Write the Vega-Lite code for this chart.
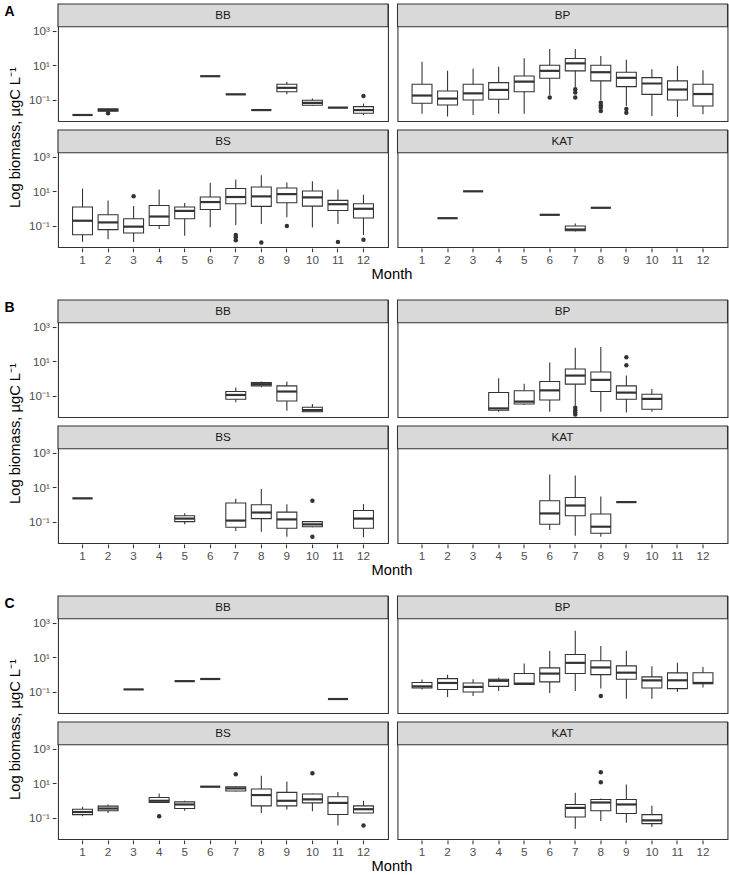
{
  "$schema": "https://vega.github.io/schema/vega-lite/v6.json",
  "padding": {"left": 4, "top": 1, "right": 0, "bottom": 0},
  "datasets": {
    "rows": [
      {"p":"A","s":"BB","m":1,"lo":0.0135,"q1":0.0135,"md":0.0135,"q3":0.0135,"hi":0.0135},
      {"p":"A","s":"BB","m":2,"lo":0.022,"q1":0.022,"md":0.026,"q3":0.031,"hi":0.031},
      {"p":"A","s":"BB","m":6,"lo":2.35,"q1":2.35,"md":2.35,"q3":2.35,"hi":2.35},
      {"p":"A","s":"BB","m":7,"lo":0.21,"q1":0.21,"md":0.21,"q3":0.21,"hi":0.21},
      {"p":"A","s":"BB","m":8,"lo":0.026,"q1":0.026,"md":0.026,"q3":0.026,"hi":0.026},
      {"p":"A","s":"BB","m":9,"lo":0.21,"q1":0.30,"md":0.50,"q3":0.81,"hi":1.1},
      {"p":"A","s":"BB","m":10,"lo":0.045,"q1":0.049,"md":0.067,"q3":0.095,"hi":0.12},
      {"p":"A","s":"BB","m":11,"lo":0.036,"q1":0.036,"md":0.036,"q3":0.036,"hi":0.036},
      {"p":"A","s":"BB","m":12,"lo":0.0135,"q1":0.017,"md":0.026,"q3":0.041,"hi":0.061},
      {"p":"A","s":"BB","m":2,"o":0.017},
      {"p":"A","s":"BB","m":12,"o":0.17},
      {"p":"A","s":"BP","m":1,"lo":0.016,"q1":0.064,"md":0.18,"q3":0.81,"hi":15.9},
      {"p":"A","s":"BP","m":2,"lo":0.011,"q1":0.051,"md":0.12,"q3":0.33,"hi":4.8},
      {"p":"A","s":"BP","m":3,"lo":0.0135,"q1":0.1,"md":0.24,"q3":0.81,"hi":6.6},
      {"p":"A","s":"BP","m":4,"lo":0.016,"q1":0.11,"md":0.38,"q3":1.0,"hi":8.2},
      {"p":"A","s":"BP","m":5,"lo":0.016,"q1":0.30,"md":1.15,"q3":2.4,"hi":26},
      {"p":"A","s":"BP","m":6,"lo":0.19,"q1":1.8,"md":4.8,"q3":10.2,"hi":87},
      {"p":"A","s":"BP","m":7,"lo":0.56,"q1":4.8,"md":13,"q3":25,"hi":87},
      {"p":"A","s":"BP","m":8,"lo":0.095,"q1":1.26,"md":4.0,"q3":10.2,"hi":35},
      {"p":"A","s":"BP","m":9,"lo":0.045,"q1":0.59,"md":1.9,"q3":4.0,"hi":21},
      {"p":"A","s":"BP","m":10,"lo":0.012,"q1":0.21,"md":0.89,"q3":1.95,"hi":6.0},
      {"p":"A","s":"BP","m":11,"lo":0.0103,"q1":0.1,"md":0.40,"q3":1.26,"hi":9.3},
      {"p":"A","s":"BP","m":12,"lo":0.0148,"q1":0.045,"md":0.22,"q3":0.81,"hi":5.2},
      {"p":"A","s":"BP","m":6,"o":0.14},
      {"p":"A","s":"BP","m":7,"o":0.42},
      {"p":"A","s":"BP","m":7,"o":0.27},
      {"p":"A","s":"BP","m":7,"o":0.14},
      {"p":"A","s":"BP","m":8,"o":0.07},
      {"p":"A","s":"BP","m":8,"o":0.049},
      {"p":"A","s":"BP","m":8,"o":0.036},
      {"p":"A","s":"BP","m":8,"o":0.023},
      {"p":"A","s":"BP","m":9,"o":0.03},
      {"p":"A","s":"BP","m":9,"o":0.018},
      {"p":"A","s":"BS","m":1,"lo":0.012,"q1":0.031,"md":0.20,"q3":1.23,"hi":14.5},
      {"p":"A","s":"BS","m":2,"lo":0.017,"q1":0.061,"md":0.16,"q3":0.44,"hi":3.0},
      {"p":"A","s":"BS","m":3,"lo":0.012,"q1":0.039,"md":0.091,"q3":0.26,"hi":1.4},
      {"p":"A","s":"BS","m":4,"lo":0.067,"q1":0.105,"md":0.35,"q3":1.5,"hi":12.6},
      {"p":"A","s":"BS","m":5,"lo":0.027,"q1":0.26,"md":0.74,"q3":1.23,"hi":2.1},
      {"p":"A","s":"BS","m":6,"lo":0.084,"q1":0.89,"md":2.4,"q3":4.7,"hi":31},
      {"p":"A","s":"BS","m":7,"lo":0.114,"q1":1.9,"md":4.7,"q3":14.5,"hi":48},
      {"p":"A","s":"BS","m":8,"lo":0.13,"q1":1.35,"md":5.1,"q3":18,"hi":85},
      {"p":"A","s":"BS","m":9,"lo":0.32,"q1":2.2,"md":6.9,"q3":15.6,"hi":32},
      {"p":"A","s":"BS","m":10,"lo":0.08,"q1":1.4,"md":4.5,"q3":10.5,"hi":38},
      {"p":"A","s":"BS","m":11,"lo":0.13,"q1":0.78,"md":1.8,"q3":3.0,"hi":12.6},
      {"p":"A","s":"BS","m":12,"lo":0.030,"q1":0.29,"md":0.98,"q3":1.9,"hi":6.4},
      {"p":"A","s":"BS","m":3,"o":5.2},
      {"p":"A","s":"BS","m":7,"o":0.030},
      {"p":"A","s":"BS","m":7,"o":0.022},
      {"p":"A","s":"BS","m":7,"o":0.015},
      {"p":"A","s":"BS","m":8,"o":0.0112},
      {"p":"A","s":"BS","m":9,"o":0.10},
      {"p":"A","s":"BS","m":11,"o":0.012},
      {"p":"A","s":"BS","m":12,"o":0.016},
      {"p":"A","s":"KAT","m":2,"lo":0.28,"q1":0.28,"md":0.28,"q3":0.28,"hi":0.28},
      {"p":"A","s":"KAT","m":3,"lo":10,"q1":10,"md":10,"q3":10,"hi":10},
      {"p":"A","s":"KAT","m":6,"lo":0.44,"q1":0.44,"md":0.44,"q3":0.44,"hi":0.44},
      {"p":"A","s":"KAT","m":7,"lo":0.047,"q1":0.053,"md":0.062,"q3":0.1,"hi":0.137},
      {"p":"A","s":"KAT","m":8,"lo":1.12,"q1":1.12,"md":1.12,"q3":1.12,"hi":1.12},

      {"p":"B","s":"BB","m":7,"lo":0.043,"q1":0.064,"md":0.114,"q3":0.18,"hi":0.31},
      {"p":"B","s":"BB","m":8,"lo":0.32,"q1":0.38,"md":0.48,"q3":0.60,"hi":0.68},
      {"p":"B","s":"BB","m":9,"lo":0.014,"q1":0.051,"md":0.18,"q3":0.38,"hi":0.68},
      {"p":"B","s":"BB","m":10,"lo":0.0123,"q1":0.0123,"md":0.015,"q3":0.022,"hi":0.034},
      {"p":"B","s":"BP","m":4,"lo":0.0123,"q1":0.015,"md":0.019,"q3":0.16,"hi":1.07},
      {"p":"B","s":"BP","m":5,"lo":0.030,"q1":0.034,"md":0.047,"q3":0.20,"hi":0.50},
      {"p":"B","s":"BP","m":6,"lo":0.0123,"q1":0.058,"md":0.21,"q3":0.68,"hi":8.7},
      {"p":"B","s":"BP","m":7,"lo":0.027,"q1":0.48,"md":1.5,"q3":3.6,"hi":60},
      {"p":"B","s":"BP","m":8,"lo":0.0123,"q1":0.18,"md":0.85,"q3":2.4,"hi":68},
      {"p":"B","s":"BP","m":9,"lo":0.011,"q1":0.064,"md":0.156,"q3":0.38,"hi":1.5},
      {"p":"B","s":"BP","m":10,"lo":0.0123,"q1":0.017,"md":0.067,"q3":0.125,"hi":0.25},
      {"p":"B","s":"BP","m":7,"o":0.021},
      {"p":"B","s":"BP","m":7,"o":0.015},
      {"p":"B","s":"BP","m":7,"o":0.011},
      {"p":"B","s":"BP","m":7,"o":0.0085},
      {"p":"B","s":"BP","m":9,"o":17},
      {"p":"B","s":"BP","m":9,"o":5.9},
      {"p":"B","s":"BS","m":1,"lo":2.3,"q1":2.3,"md":2.3,"q3":2.3,"hi":2.3},
      {"p":"B","s":"BS","m":5,"lo":0.073,"q1":0.104,"md":0.156,"q3":0.23,"hi":0.32},
      {"p":"B","s":"BS","m":7,"lo":0.030,"q1":0.049,"md":0.12,"q3":1.23,"hi":2.2},
      {"p":"B","s":"BS","m":8,"lo":0.027,"q1":0.156,"md":0.35,"q3":0.98,"hi":8.0},
      {"p":"B","s":"BS","m":9,"lo":0.014,"q1":0.043,"md":0.14,"q3":0.37,"hi":1.07},
      {"p":"B","s":"BS","m":10,"lo":0.049,"q1":0.053,"md":0.073,"q3":0.104,"hi":0.114},
      {"p":"B","s":"BS","m":12,"lo":0.013,"q1":0.043,"md":0.156,"q3":0.46,"hi":1.07},
      {"p":"B","s":"BS","m":10,"o":1.66},
      {"p":"B","s":"BS","m":10,"o":0.014},
      {"p":"B","s":"KAT","m":6,"lo":0.034,"q1":0.073,"md":0.31,"q3":1.66,"hi":55},
      {"p":"B","s":"KAT","m":7,"lo":0.016,"q1":0.23,"md":0.89,"q3":2.6,"hi":48},
      {"p":"B","s":"KAT","m":8,"lo":0.014,"q1":0.022,"md":0.053,"q3":0.29,"hi":3.0},
      {"p":"B","s":"KAT","m":9,"lo":1.4,"q1":1.4,"md":1.4,"q3":1.4,"hi":1.4},

      {"p":"C","s":"BB","m":3,"lo":0.14,"q1":0.14,"md":0.14,"q3":0.14,"hi":0.14},
      {"p":"C","s":"BB","m":5,"lo":0.42,"q1":0.42,"md":0.42,"q3":0.42,"hi":0.42},
      {"p":"C","s":"BB","m":6,"lo":0.56,"q1":0.56,"md":0.56,"q3":0.56,"hi":0.56},
      {"p":"C","s":"BB","m":11,"lo":0.039,"q1":0.039,"md":0.039,"q3":0.039,"hi":0.039},
      {"p":"C","s":"BP","m":1,"lo":0.14,"q1":0.17,"md":0.21,"q3":0.35,"hi":0.52},
      {"p":"C","s":"BP","m":2,"lo":0.051,"q1":0.14,"md":0.33,"q3":0.59,"hi":1.0},
      {"p":"C","s":"BP","m":3,"lo":0.059,"q1":0.1,"md":0.195,"q3":0.33,"hi":0.54},
      {"p":"C","s":"BP","m":4,"lo":0.114,"q1":0.21,"md":0.44,"q3":0.54,"hi":0.65},
      {"p":"C","s":"BP","m":5,"lo":0.27,"q1":0.27,"md":0.30,"q3":1.15,"hi":4.4},
      {"p":"C","s":"BP","m":6,"lo":0.088,"q1":0.38,"md":1.15,"q3":2.45,"hi":23},
      {"p":"C","s":"BP","m":7,"lo":0.114,"q1":1.15,"md":4.8,"q3":14.5,"hi":347},
      {"p":"C","s":"BP","m":8,"lo":0.156,"q1":1.0,"md":2.6,"q3":6.3,"hi":45},
      {"p":"C","s":"BP","m":9,"lo":0.041,"q1":0.54,"md":1.3,"q3":3.2,"hi":24},
      {"p":"C","s":"BP","m":10,"lo":0.041,"q1":0.17,"md":0.47,"q3":0.74,"hi":3.1},
      {"p":"C","s":"BP","m":11,"lo":0.1,"q1":0.156,"md":0.47,"q3":1.26,"hi":4.8},
      {"p":"C","s":"BP","m":12,"lo":0.18,"q1":0.30,"md":0.33,"q3":1.3,"hi":2.8},
      {"p":"C","s":"BP","m":8,"o":0.059},
      {"p":"C","s":"BS","m":1,"lo":0.125,"q1":0.156,"md":0.22,"q3":0.32,"hi":0.44},
      {"p":"C","s":"BS","m":2,"lo":0.195,"q1":0.26,"md":0.35,"q3":0.48,"hi":0.60},
      {"p":"C","s":"BS","m":4,"lo":0.78,"q1":0.78,"md":0.98,"q3":1.5,"hi":2.6},
      {"p":"C","s":"BS","m":5,"lo":0.26,"q1":0.35,"md":0.60,"q3":0.85,"hi":0.98},
      {"p":"C","s":"BS","m":6,"lo":6.4,"q1":6.4,"md":6.4,"q3":6.4,"hi":6.4},
      {"p":"C","s":"BS","m":7,"lo":3.4,"q1":3.6,"md":5.1,"q3":6.4,"hi":6.6},
      {"p":"C","s":"BS","m":8,"lo":0.195,"q1":0.50,"md":2.1,"q3":4.7,"hi":27},
      {"p":"C","s":"BS","m":9,"lo":0.31,"q1":0.50,"md":0.98,"q3":3.0,"hi":12.6},
      {"p":"C","s":"BS","m":10,"lo":0.24,"q1":0.74,"md":1.17,"q3":2.4,"hi":2.6},
      {"p":"C","s":"BS","m":11,"lo":0.037,"q1":0.16,"md":0.74,"q3":1.66,"hi":3.2},
      {"p":"C","s":"BS","m":12,"lo":0.195,"q1":0.195,"md":0.32,"q3":0.50,"hi":0.98},
      {"p":"C","s":"BS","m":4,"o":0.125},
      {"p":"C","s":"BS","m":7,"o":33},
      {"p":"C","s":"BS","m":10,"o":38},
      {"p":"C","s":"BS","m":12,"o":0.037},
      {"p":"C","s":"KAT","m":7,"lo":0.024,"q1":0.114,"md":0.38,"q3":0.60,"hi":2.9},
      {"p":"C","s":"KAT","m":8,"lo":0.067,"q1":0.26,"md":0.78,"q3":1.17,"hi":1.35},
      {"p":"C","s":"KAT","m":9,"lo":0.053,"q1":0.18,"md":0.60,"q3":1.17,"hi":8.7},
      {"p":"C","s":"KAT","m":10,"lo":0.030,"q1":0.047,"md":0.073,"q3":0.156,"hi":0.50},
      {"p":"C","s":"KAT","m":8,"o":44},
      {"p":"C","s":"KAT","m":8,"o":11.5}
    ]
  },
  "spacing": 14,
  "vconcat": [
    {
      "title": {"text": "A", "anchor": "start", "frame": "bounds", "fontSize": 14, "fontWeight": "bold", "color": "#000000", "offset": -17, "dx": -3},
      "spacing": 5,
      "hconcat": [
        {"width": 15, "height": 241, "view": {"stroke": null},
         "data": {"name": "rows"}, "transform": [{"aggregate": [{"op": "count", "as": "n"}]}],
         "mark": {"type": "text", "text": "Log biomass, µgC L⁻¹", "angle": 270, "fontSize": 14.7, "color": "#000000", "baseline": "middle", "dx": -13},
         "encoding": {}},
        {"spacing": 0, "vconcat": [
          {
            "data": {"name": "rows"},
            "transform": [{"filter": "datum.p == 'A'"}],
            "facet": {"field": "s", "type": "nominal", "header": {"title": null, "labelExpr": "''", "labelPadding": 0, "labelFontSize": 1}},
            "columns": 2,
            "spacing": {"row": 5, "column": 5.5},
            "spec": {
              "width": 330, "height": 117,
              "layer": [
                {"transform": [{"aggregate": [{"op": "count", "as": "n"}], "groupby": ["s"]}],
                 "mark": {"type": "rect", "fill": "#D9D9D9", "stroke": "#333333", "strokeWidth": 1.07},
                 "encoding": {"y": {"datum": 1700, "type": "quantitative", "title": null, "axis": {"values": [0.1, 10, 1000], "title": null}, "scale": {"type": "log", "domain": [0.00607, 35000], "nice": false}}, "y2": {"datum": 35000}}},
                {"transform": [{"aggregate": [{"op": "count", "as": "n"}], "groupby": ["s"]}],
                 "mark": {"type": "text", "fontSize": 11.7, "color": "#1A1A1A", "baseline": "middle"},
                 "encoding": {"y": {"datum": 7714, "type": "quantitative", "title": null, "axis": {"values": [0.1, 10, 1000], "title": null}}, "text": {"field": "s"}}},
                {"transform": [{"filter": {"field": "md", "valid": true}}],
                 "mark": {"type": "rule", "color": "#333333", "strokeWidth": 1.07},
                 "encoding": {"x": {"field": "m", "type": "ordinal", "title": null, "scale": {"domain": [1,2,3,4,5,6,7,8,9,10,11,12], "paddingInner": 0.22, "paddingOuter": 0.57}},
                              "y": {"field": "lo", "type": "quantitative", "title": null, "axis": {"values": [0.1, 10, 1000], "title": null}}, "y2": {"field": "hi"}}},
                {"transform": [{"filter": {"field": "md", "valid": true}}],
                 "mark": {"type": "bar", "fill": "white", "stroke": "#333333", "strokeWidth": 1.07},
                 "encoding": {"x": {"field": "m", "type": "ordinal", "title": null},
                              "y": {"field": "q1", "type": "quantitative", "title": null, "axis": {"values": [0.1, 10, 1000], "title": null}}, "y2": {"field": "q3"}}},
                {"transform": [{"filter": {"field": "md", "valid": true}}],
                 "mark": {"type": "tick", "color": "#333333", "thickness": 2.2, "size": 20, "orient": "horizontal", "opacity": 1},
                 "encoding": {"x": {"field": "m", "type": "ordinal", "title": null},
                              "y": {"field": "md", "type": "quantitative", "title": null, "axis": {"values": [0.1, 10, 1000], "title": null}}}},
                {"transform": [{"filter": {"field": "o", "valid": true}}],
                 "mark": {"type": "point", "filled": true, "color": "#333333", "size": 20, "opacity": 1},
                 "encoding": {"x": {"field": "m", "type": "ordinal", "title": null},
                              "y": {"field": "o", "type": "quantitative", "title": null, "axis": {"values": [0.1, 10, 1000], "title": null}}}}
              ]
            }
          },
          {"width": 668, "height": 16, "view": {"stroke": null},
           "data": {"name": "rows"}, "transform": [{"aggregate": [{"op": "count", "as": "n"}]}],
           "mark": {"type": "text", "text": "Month", "fontSize": 14.7, "color": "#000000", "baseline": "middle"},
           "encoding": {}}
        ]}
      ]
    },
    {
      "title": {"text": "B", "anchor": "start", "frame": "bounds", "fontSize": 14, "fontWeight": "bold", "color": "#000000", "offset": -17, "dx": -3},
      "spacing": 5,
      "hconcat": [
        {"width": 15, "height": 241, "view": {"stroke": null},
         "data": {"name": "rows"}, "transform": [{"aggregate": [{"op": "count", "as": "n"}]}],
         "mark": {"type": "text", "text": "Log biomass, µgC L⁻¹", "angle": 270, "fontSize": 14.7, "color": "#000000", "baseline": "middle", "dx": -13},
         "encoding": {}},
        {"spacing": 0, "vconcat": [
          {
            "data": {"name": "rows"},
            "transform": [{"filter": "datum.p == 'B'"}],
            "facet": {"field": "s", "type": "nominal", "header": {"title": null, "labelExpr": "''", "labelPadding": 0, "labelFontSize": 1}},
            "columns": 2,
            "spacing": {"row": 5, "column": 5.5},
            "spec": {
              "width": 330, "height": 117,
              "layer": [
                {"transform": [{"aggregate": [{"op": "count", "as": "n"}], "groupby": ["s"]}],
                 "mark": {"type": "rect", "fill": "#D9D9D9", "stroke": "#333333", "strokeWidth": 1.07},
                 "encoding": {"y": {"datum": 1700, "type": "quantitative", "title": null, "axis": {"values": [0.1, 10, 1000], "title": null}, "scale": {"type": "log", "domain": [0.00607, 35000], "nice": false}}, "y2": {"datum": 35000}}},
                {"transform": [{"aggregate": [{"op": "count", "as": "n"}], "groupby": ["s"]}],
                 "mark": {"type": "text", "fontSize": 11.7, "color": "#1A1A1A", "baseline": "middle"},
                 "encoding": {"y": {"datum": 7714, "type": "quantitative", "title": null, "axis": {"values": [0.1, 10, 1000], "title": null}}, "text": {"field": "s"}}},
                {"transform": [{"filter": {"field": "md", "valid": true}}],
                 "mark": {"type": "rule", "color": "#333333", "strokeWidth": 1.07},
                 "encoding": {"x": {"field": "m", "type": "ordinal", "title": null, "scale": {"domain": [1,2,3,4,5,6,7,8,9,10,11,12], "paddingInner": 0.22, "paddingOuter": 0.57}},
                              "y": {"field": "lo", "type": "quantitative", "title": null, "axis": {"values": [0.1, 10, 1000], "title": null}}, "y2": {"field": "hi"}}},
                {"transform": [{"filter": {"field": "md", "valid": true}}],
                 "mark": {"type": "bar", "fill": "white", "stroke": "#333333", "strokeWidth": 1.07},
                 "encoding": {"x": {"field": "m", "type": "ordinal", "title": null},
                              "y": {"field": "q1", "type": "quantitative", "title": null, "axis": {"values": [0.1, 10, 1000], "title": null}}, "y2": {"field": "q3"}}},
                {"transform": [{"filter": {"field": "md", "valid": true}}],
                 "mark": {"type": "tick", "color": "#333333", "thickness": 2.2, "size": 20, "orient": "horizontal", "opacity": 1},
                 "encoding": {"x": {"field": "m", "type": "ordinal", "title": null},
                              "y": {"field": "md", "type": "quantitative", "title": null, "axis": {"values": [0.1, 10, 1000], "title": null}}}},
                {"transform": [{"filter": {"field": "o", "valid": true}}],
                 "mark": {"type": "point", "filled": true, "color": "#333333", "size": 20, "opacity": 1},
                 "encoding": {"x": {"field": "m", "type": "ordinal", "title": null},
                              "y": {"field": "o", "type": "quantitative", "title": null, "axis": {"values": [0.1, 10, 1000], "title": null}}}}
              ]
            }
          },
          {"width": 668, "height": 16, "view": {"stroke": null},
           "data": {"name": "rows"}, "transform": [{"aggregate": [{"op": "count", "as": "n"}]}],
           "mark": {"type": "text", "text": "Month", "fontSize": 14.7, "color": "#000000", "baseline": "middle"},
           "encoding": {}}
        ]}
      ]
    },
    {
      "title": {"text": "C", "anchor": "start", "frame": "bounds", "fontSize": 14, "fontWeight": "bold", "color": "#000000", "offset": -17, "dx": -3},
      "spacing": 5,
      "hconcat": [
        {"width": 15, "height": 241, "view": {"stroke": null},
         "data": {"name": "rows"}, "transform": [{"aggregate": [{"op": "count", "as": "n"}]}],
         "mark": {"type": "text", "text": "Log biomass, µgC L⁻¹", "angle": 270, "fontSize": 14.7, "color": "#000000", "baseline": "middle", "dx": -13},
         "encoding": {}},
        {"spacing": 0, "vconcat": [
          {
            "data": {"name": "rows"},
            "transform": [{"filter": "datum.p == 'C'"}],
            "facet": {"field": "s", "type": "nominal", "header": {"title": null, "labelExpr": "''", "labelPadding": 0, "labelFontSize": 1}},
            "columns": 2,
            "spacing": {"row": 5, "column": 5.5},
            "spec": {
              "width": 330, "height": 117,
              "layer": [
                {"transform": [{"aggregate": [{"op": "count", "as": "n"}], "groupby": ["s"]}],
                 "mark": {"type": "rect", "fill": "#D9D9D9", "stroke": "#333333", "strokeWidth": 1.07},
                 "encoding": {"y": {"datum": 1700, "type": "quantitative", "title": null, "axis": {"values": [0.1, 10, 1000], "title": null}, "scale": {"type": "log", "domain": [0.00607, 35000], "nice": false}}, "y2": {"datum": 35000}}},
                {"transform": [{"aggregate": [{"op": "count", "as": "n"}], "groupby": ["s"]}],
                 "mark": {"type": "text", "fontSize": 11.7, "color": "#1A1A1A", "baseline": "middle"},
                 "encoding": {"y": {"datum": 7714, "type": "quantitative", "title": null, "axis": {"values": [0.1, 10, 1000], "title": null}}, "text": {"field": "s"}}},
                {"transform": [{"filter": {"field": "md", "valid": true}}],
                 "mark": {"type": "rule", "color": "#333333", "strokeWidth": 1.07},
                 "encoding": {"x": {"field": "m", "type": "ordinal", "title": null, "scale": {"domain": [1,2,3,4,5,6,7,8,9,10,11,12], "paddingInner": 0.22, "paddingOuter": 0.57}},
                              "y": {"field": "lo", "type": "quantitative", "title": null, "axis": {"values": [0.1, 10, 1000], "title": null}}, "y2": {"field": "hi"}}},
                {"transform": [{"filter": {"field": "md", "valid": true}}],
                 "mark": {"type": "bar", "fill": "white", "stroke": "#333333", "strokeWidth": 1.07},
                 "encoding": {"x": {"field": "m", "type": "ordinal", "title": null},
                              "y": {"field": "q1", "type": "quantitative", "title": null, "axis": {"values": [0.1, 10, 1000], "title": null}}, "y2": {"field": "q3"}}},
                {"transform": [{"filter": {"field": "md", "valid": true}}],
                 "mark": {"type": "tick", "color": "#333333", "thickness": 2.2, "size": 20, "orient": "horizontal", "opacity": 1},
                 "encoding": {"x": {"field": "m", "type": "ordinal", "title": null},
                              "y": {"field": "md", "type": "quantitative", "title": null, "axis": {"values": [0.1, 10, 1000], "title": null}}}},
                {"transform": [{"filter": {"field": "o", "valid": true}}],
                 "mark": {"type": "point", "filled": true, "color": "#333333", "size": 20, "opacity": 1},
                 "encoding": {"x": {"field": "m", "type": "ordinal", "title": null},
                              "y": {"field": "o", "type": "quantitative", "title": null, "axis": {"values": [0.1, 10, 1000], "title": null}}}}
              ]
            }
          },
          {"width": 668, "height": 16, "view": {"stroke": null},
           "data": {"name": "rows"}, "transform": [{"aggregate": [{"op": "count", "as": "n"}]}],
           "mark": {"type": "text", "text": "Month", "fontSize": 14.7, "color": "#000000", "baseline": "middle"},
           "encoding": {}}
        ]}
      ]
    }
  ],
  "config": {
    "font": "Liberation Sans",
    "view": {"stroke": "#333333", "strokeWidth": 1.07},
    "axis": {"domain": false, "grid": false, "tickColor": "#333333", "tickWidth": 1.07, "tickSize": 3.7, "labelColor": "#4D4D4D", "labelFontSize": 11.7, "labelPadding": 2.9},
    "axisX": {"labelAngle": 0},
    "axisY": {"labelExpr": "datum.value < 1 ? '10⁻¹' : datum.value < 100 ? '10¹' : '10³'"}
  }
}
